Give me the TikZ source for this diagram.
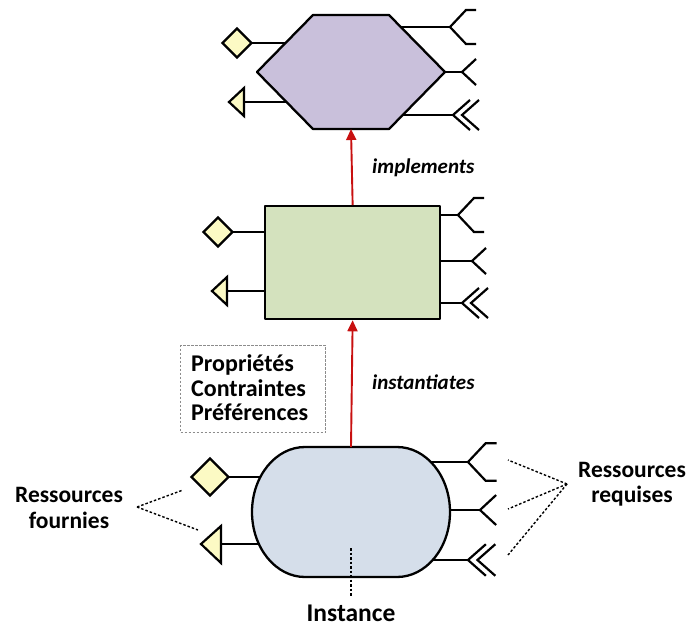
\documentclass[tikz,border=0pt]{standalone}
\usepackage{fontspec}
\setmainfont{Carlito}
\usetikzlibrary{shapes.geometric,arrows.meta}
\definecolor{hexfill}{RGB}{201,192,219}
\definecolor{rectfill}{RGB}{212,226,190}
\definecolor{instfill}{RGB}{213,222,234}
\definecolor{portfill}{RGB}{252,250,196}
\definecolor{relred}{RGB}{200,16,16}
\definecolor{boxgray}{RGB}{140,140,140}
\begin{document}
\begin{tikzpicture}[x=1pt,y=-1pt,
  shapeline/.style={draw=black,line width=2.3pt,line join=round},
  portline/.style={draw=black,line width=2.2pt},
  provdiamond/.style={shape=diamond,draw=black,line width=2.2pt,fill=portfill,inner sep=0pt},
  provtri/.style={draw=black,line width=2.2pt,fill=portfill,line join=miter},
  relarrow/.style={draw=relred,line width=1.9pt,-{Triangle[length=11pt,width=10pt]}},
  dotline/.style={draw=black,line width=1.4pt,dash pattern=on 2.5pt off 2pt},
  lbl/.style={font=\fontsize{23.5}{25.5}\selectfont\bfseries,align=center,inner sep=0pt},
  rellbl/.style={font=\fontsize{21}{24}\selectfont\bfseries\itshape,inner sep=0pt},
  forkA/.pic={\draw[portline] (26,-17) -- (16,-17) -- (0,0) -- (16,17) -- (26,17);},
  forkB/.pic={\draw[portline] (14,-13) -- (0,0) -- (14,13);},
  chev/.pic={\draw[portline] (17,-15) -- (0,0) -- (17,15);
             \draw[portline] (26,-15) -- (9,0) -- (26,15);}
]
\useasboundingbox (0,0) rectangle (689,630);

% ---------- hexagon (component type) ----------
\draw[portline] (252,43) -- (286,43);
\draw[portline] (244,102) -- (286,102);
\draw[portline] (401,27) -- (450,27);
\draw[portline] (445,72) -- (462,72);
\draw[portline] (403,115) -- (453,115);
\draw[shapeline,fill=hexfill] (313,15) -- (389,15) -- (445,72) -- (389,129) -- (313,129) -- (257,72) -- cycle;
\coordinate (hexS) at (351,129);
\node[provdiamond,minimum width=30pt,minimum height=30pt] (hexD) at (237,43) {};
\draw[provtri] (229,102) -- (244,88) -- (244,116) -- cycle;
\pic at (450,27) {forkA};
\pic at (462,72) {forkB};
\pic at (453,115) {chev};

% ---------- rectangle (implementation) ----------
\draw[portline] (233,232) -- (264,232);
\draw[portline] (227,291) -- (264,291);
\draw[portline] (439,215) -- (458,215);
\draw[portline] (439,261) -- (472,261);
\draw[portline] (439,303) -- (462,303);
\node[shapeline,fill=rectfill,minimum width=175pt,minimum height=113pt,inner sep=0pt,anchor=north west] (rect) at (264,205) {};
\node[provdiamond,minimum width=30pt,minimum height=30pt] (rectD) at (218,232) {};
\draw[provtri] (212,291) -- (227,277) -- (227,305) -- cycle;
\pic at (458,215) {forkA};
\pic at (472,261) {forkB};
\pic at (462,303) {chev};

% ---------- instance (stadium) ----------
\draw[portline] (229,477) -- (260,477);
\draw[portline] (221,544) -- (259,544);
\draw[portline] (431,462) -- (468,462);
\draw[portline] (450,510) -- (480,510);
\draw[portline] (433,560) -- (468,560);
\draw[shapeline,fill=instfill] (305,447) -- (397,447) arc[start angle=-90,end angle=90,x radius=53,y radius=65]
  -- (305,577) arc[start angle=90,end angle=270,x radius=53,y radius=65] -- cycle;
\coordinate (instN) at (351,447);
\coordinate (instC) at (351,548);
\node[provdiamond,minimum width=38pt,minimum height=38pt] (instD) at (210,477) {};
\draw[provtri] (201,544) -- (221,526) -- (221,563) -- cycle;
\pic[scale=1.1] at (468,462) {forkA};
\pic[scale=1.15] at (480,510) {forkB};
\pic[scale=1.05] at (468,560) {chev};

% ---------- relations ----------
\draw[relarrow] (rect.north) -- (hexS);
\draw[relarrow] (instN) -- (rect.south);
\node[rellbl,anchor=west] (impl) at (372,168) {implements};
\node[rellbl,anchor=west] (inst) at (372,382) {instantiates};

% ---------- properties box ----------
\node[draw=boxgray,line width=1.1pt,dash pattern=on 2.5pt off 1.5pt,
      minimum width=145pt,minimum height=87pt,anchor=north west,inner sep=0pt] (props) at (180,345) {};
\node[font=\fontsize{24}{24.5}\selectfont\bfseries,align=left,anchor=west,inner sep=0pt] (propstxt) at (191,388)
  {Propriétés\\Contraintes\\Préférences};

% ---------- annotations ----------
\node[lbl] (fourn) at (69,508) {Ressources\\fournies};
\coordinate (fournP) at (137,507);
\coordinate (fournA) at (183,490);
\coordinate (fournB) at (198,530);
\draw[dotline] (fournP) -- (fournA);
\draw[dotline] (fournP) -- (fournB);

\node[lbl] (req) at (632,484) {Ressources\\requises};
\coordinate (reqP) at (567,484);
\coordinate (reqA) at (508,460);
\coordinate (reqB) at (508,509);
\coordinate (reqC) at (508,555);
\draw[dotline] (reqP) -- (reqA);
\draw[dotline] (reqP) -- (reqB);
\draw[dotline] (reqP) -- (reqC);

\node[font=\fontsize{25.5}{28}\selectfont\bfseries,inner sep=0pt,text depth=0pt,anchor=base] (instance) at (351,621) {Instance};
\coordinate (instE) at (351,596);
\draw[dotline] (instC) -- (instE);
\end{tikzpicture}
\end{document}
